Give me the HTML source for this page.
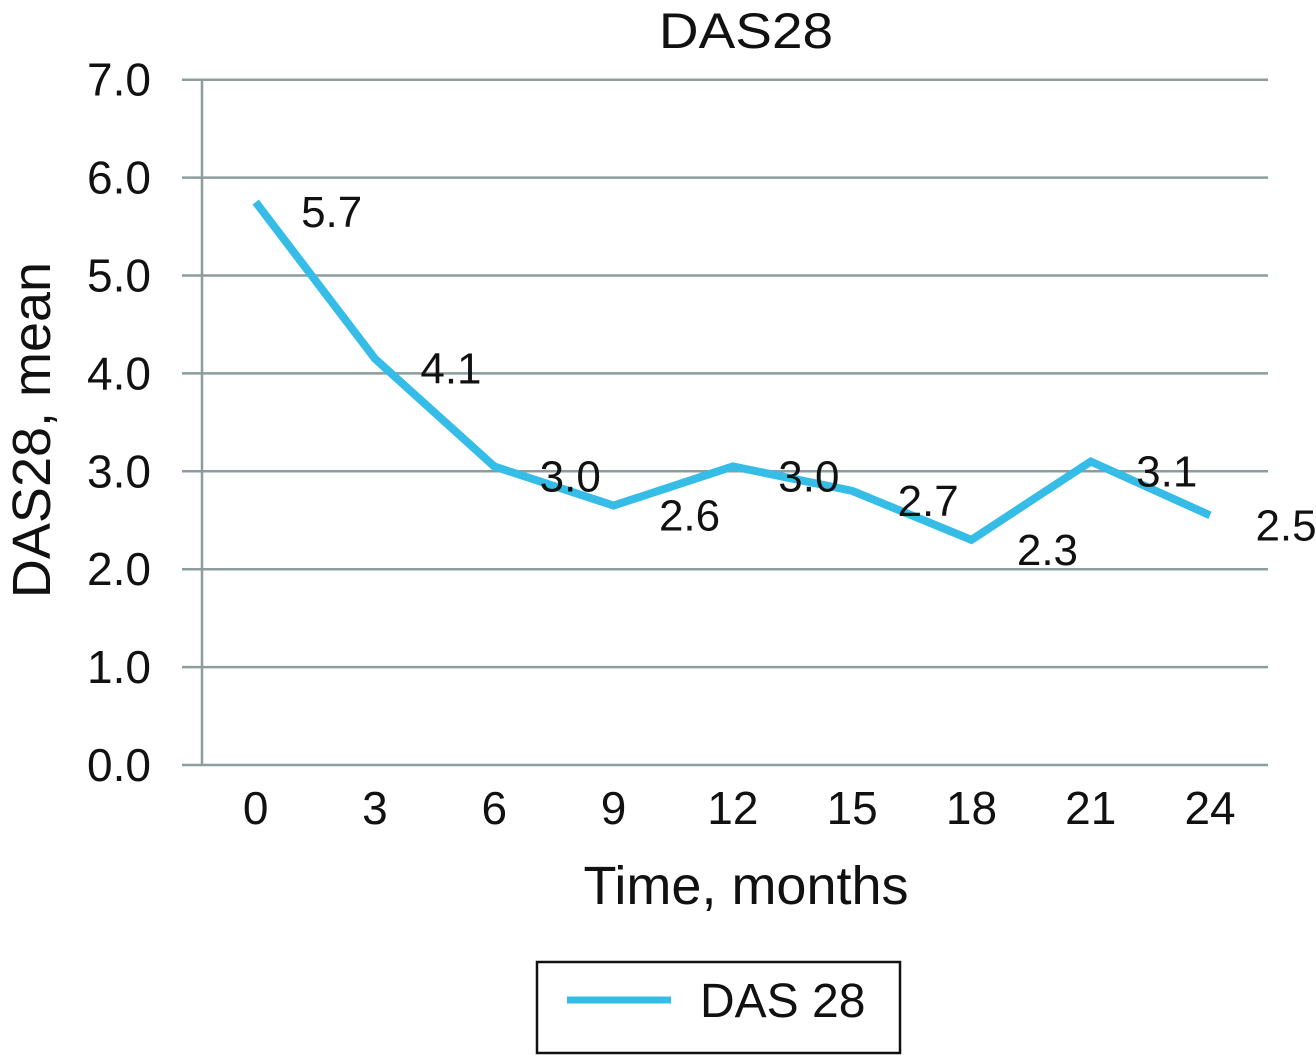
<!DOCTYPE html>
<html><head><meta charset="utf-8"><style>
html,body{margin:0;padding:0;background:#fff;}
svg{display:block;font-family:"Liberation Sans",Arial,sans-serif;}
</style></head><body>
<svg id="chart" width="1316" height="1055" viewBox="0 0 1316 1055">
<text transform="translate(746,48) scale(1.1,1)" font-size="50" text-anchor="middle" fill="#111">DAS28</text>
<g id="grid"></g>
<g id="yticks"></g>
<g id="xticks"></g>
<g id="series"></g>
<text x="746" y="904" font-size="54" text-anchor="middle" fill="#111">Time, months</text>
<text transform="translate(50,430) rotate(-90)" font-size="54" text-anchor="middle" fill="#111">DAS28, mean</text>
<g>
<rect x="537" y="962" width="363" height="91" fill="#fff" stroke="#111" stroke-width="2.5"/>
<line x1="567" y1="1000" x2="671" y2="1000" stroke="#35bde8" stroke-width="7"/>
<text x="700" y="1017" font-size="48" fill="#111">DAS 28</text>
</g>
</svg>
<script>
const categories = ["0","3","6","9","12","15","18","21","24"];
const values = [5.75,4.15,3.05,2.65,3.05,2.8,2.3,3.1,2.55];
const valueLabels = ["5.7","4.1","3.0","2.6","3.0","2.7","2.3","3.1","2.5"];
const yTicks = [0,1,2,3,4,5,6,7];
const yTickLabels = ["0.0","1.0","2.0","3.0","4.0","5.0","6.0","7.0"];

const NS="http://www.w3.org/2000/svg";
const y0=765, yScale=97.9, xLeft=196, band=119.3;
const yPos=v=>y0-v*yScale;
const xPos=i=>xLeft+band*(i+0.5);
function mk(tag,attrs,parent){const e=document.createElementNS(NS,tag);for(const k in attrs)e.setAttribute(k,attrs[k]);parent.appendChild(e);return e;}
const grid=document.getElementById('grid'),yt=document.getElementById('yticks'),xt=document.getElementById('xticks'),ser=document.getElementById('series');
yTicks.forEach((t,i)=>{
  const l=mk('line',{x1:182,x2:1268,y1:yPos(t),y2:yPos(t),stroke:'#8d9c9c','stroke-width':2.5},grid);
  
  
  const tx=mk('text',{x:151,y:yPos(t)+16,'font-size':46,'text-anchor':'end',fill:'#111'},yt);
  tx.textContent=yTickLabels[i];
  
  
});
const ax=mk('line',{x1:202,x2:202,y1:yPos(7),y2:y0,stroke:'#8d9c9c','stroke-width':2.5},grid);


categories.forEach((c,i)=>{
  const tx=mk('text',{x:xPos(i),y:824,'font-size':46,'text-anchor':'middle',fill:'#111'},xt);
  tx.textContent=c;
  
  
});
const pts=values.map((v,i)=>xPos(i)+','+yPos(v)).join(' ');
const pl=mk('polyline',{points:pts,fill:'none',stroke:'#35bde8','stroke-width':8,'stroke-linejoin':'miter'},ser);


values.forEach((v,i)=>{
  const tx=mk('text',{x:xPos(i)+76,y:yPos(v)+25,'font-size':44,'text-anchor':'middle',fill:'#111'},ser);
  tx.textContent=valueLabels[i];
  
  
});
</script>
</body></html>
